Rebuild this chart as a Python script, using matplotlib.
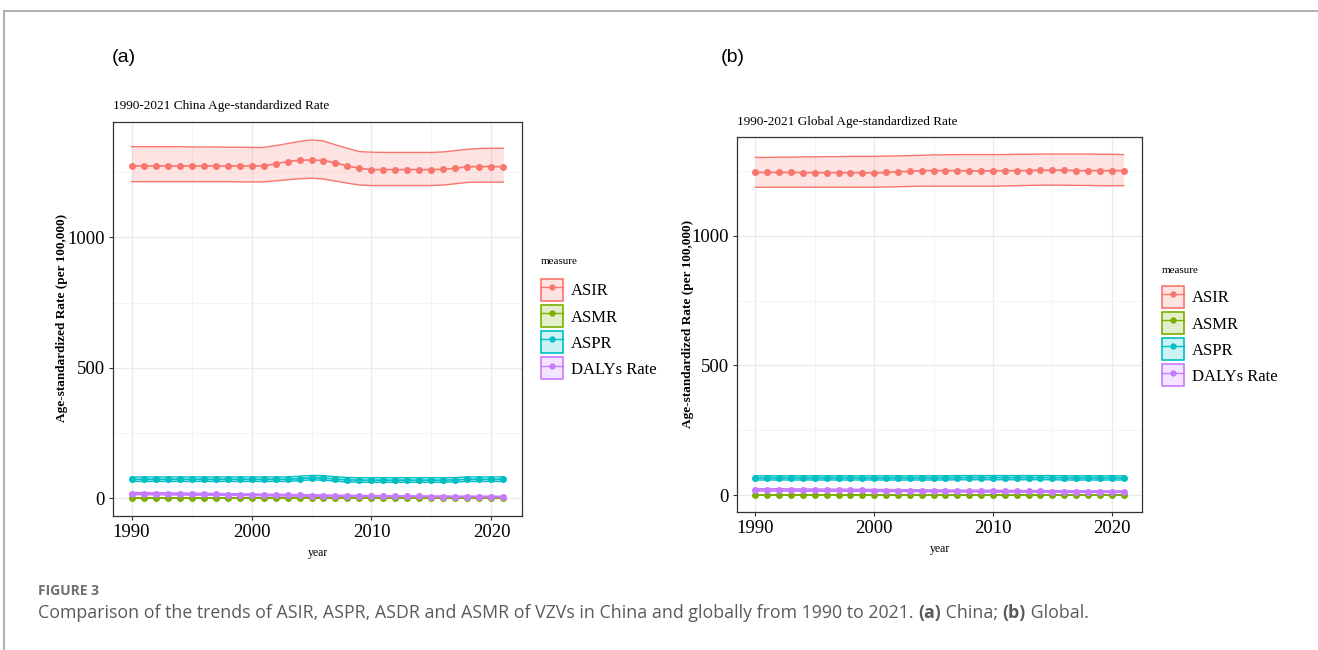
import numpy as np
import matplotlib.pyplot as plt
from matplotlib.patches import Patch
from matplotlib.lines import Line2D
from matplotlib.legend_handler import HandlerTuple
from matplotlib.colors import to_rgba

W, H = 1318, 650

years = list(range(1990, 2022))
measures = ["ASIR", "ASMR", "ASPR", "DALYs Rate"]
colors = ["#F8766D", "#7CAE00", "#00BFC4", "#C77CFF"]

# ---- China (panel a) ----
china_asir = [1274, 1274, 1274, 1274, 1274, 1274, 1274, 1274, 1274, 1274, 1274, 1274,
              1282, 1291, 1296, 1297, 1295, 1286, 1274, 1265, 1260, 1260, 1260, 1260,
              1260, 1260, 1261, 1265, 1271, 1272, 1272, 1271]
china_asir_upper = [1348, 1348, 1348, 1348, 1348, 1347, 1347, 1347, 1346, 1346, 1345, 1345,
                    1352, 1360, 1368, 1374, 1370, 1355, 1342, 1329, 1327, 1326, 1326, 1326,
                    1326, 1326, 1328, 1333, 1338, 1341, 1342, 1342]
china_asir_lower = [1214, 1214, 1214, 1214, 1214, 1214, 1214, 1214, 1214, 1213, 1213, 1213,
                    1217, 1221, 1225, 1227, 1224, 1216, 1208, 1201, 1199, 1199, 1199, 1199,
                    1199, 1199, 1201, 1206, 1211, 1212, 1212, 1212]
china_asmr = [0.6, 0.6, 0.6, 0.6, 0.6, 0.5, 0.5, 0.5, 0.5, 0.5, 0.5, 0.4, 0.4, 0.4, 0.4, 0.4,
              0.4, 0.3, 0.3, 0.3, 0.3, 0.3, 0.3, 0.3, 0.3, 0.3, 0.2, 0.2, 0.2, 0.2, 0.2, 0.2]
china_asmr_upper = [0.8, 0.8, 0.8, 0.8, 0.8, 0.7, 0.7, 0.7, 0.7, 0.7, 0.7, 0.6, 0.6, 0.6, 0.6, 0.6,
                    0.6, 0.5, 0.5, 0.5, 0.5, 0.5, 0.5, 0.5, 0.5, 0.5, 0.4, 0.4, 0.4, 0.4, 0.4, 0.4]
china_asmr_lower = [0.4, 0.4, 0.4, 0.4, 0.4, 0.4, 0.4, 0.4, 0.3, 0.3, 0.3, 0.3, 0.3, 0.3, 0.3, 0.3,
                    0.2, 0.2, 0.2, 0.2, 0.2, 0.2, 0.2, 0.2, 0.2, 0.1, 0.1, 0.1, 0.1, 0.1, 0.1, 0.1]
china_aspr = [72, 72, 72, 72, 72, 72, 72, 72, 72, 72, 72, 72, 72, 72, 75, 78,
              77, 73, 70, 69, 69, 69, 69, 69, 69, 69, 69, 70, 72, 72, 72, 72]
china_aspr_upper = [81, 81, 81, 81, 81, 81, 81, 81, 81, 81, 81, 81, 81, 81, 84, 87,
                    86, 82, 79, 78, 78, 78, 78, 78, 78, 78, 78, 79, 81, 81, 81, 81]
china_aspr_lower = [64, 64, 64, 64, 64, 64, 64, 64, 64, 64, 64, 64, 64, 64, 67, 70,
                    69, 65, 62, 61, 61, 61, 61, 61, 61, 61, 61, 62, 64, 64, 64, 64]
china_daly = [17.0, 16.8, 16.5, 16.1, 15.6, 14.9, 14.4, 14.0, 13.5, 13.0, 12.4, 11.8, 11.3, 10.8,
              10.2, 9.6, 9.1, 8.7, 8.2, 7.8, 7.4, 7.1, 6.8, 6.5, 6.3, 6.1, 5.9, 5.7, 5.6, 5.4, 5.3, 5.2]
china_daly_upper = [21.5, 21.2, 20.9, 20.4, 19.8, 19.0, 18.4, 17.9, 17.3, 16.7, 16.0, 15.3, 14.7, 14.1,
                    13.4, 12.7, 12.1, 11.6, 11.0, 10.5, 10.0, 9.6, 9.2, 8.8, 8.6, 8.3, 8.0, 7.8, 7.6, 7.4, 7.3, 7.2]
china_daly_lower = [13.0, 12.9, 12.6, 12.3, 11.9, 11.3, 10.9, 10.6, 10.2, 9.8, 9.3, 8.8, 8.4, 8.0,
                    7.5, 7.0, 6.6, 6.3, 5.9, 5.6, 5.3, 5.1, 4.9, 4.6, 4.5, 4.3, 4.2, 4.0, 3.9, 3.8, 3.7, 3.6]

# ---- Global (panel b) ----
global_asir = [1244, 1244, 1244, 1244, 1243, 1243, 1243, 1243, 1243, 1243, 1242, 1244,
               1247, 1248, 1251, 1251, 1251, 1251, 1250, 1250, 1250, 1251, 1251, 1251,
               1253, 1253, 1253, 1251, 1251, 1251, 1251, 1251]
global_asir_upper = [1302, 1302, 1303, 1303, 1304, 1304, 1305, 1305, 1306, 1306, 1306, 1307,
                     1308, 1309, 1310, 1312, 1312, 1313, 1313, 1313, 1313, 1313, 1314, 1314,
                     1315, 1315, 1315, 1315, 1315, 1314, 1314, 1313]
global_asir_lower = [1187, 1187, 1187, 1187, 1187, 1187, 1187, 1187, 1187, 1187, 1187, 1188,
                     1189, 1190, 1191, 1191, 1191, 1191, 1191, 1191, 1191, 1192, 1193, 1194,
                     1195, 1195, 1195, 1194, 1194, 1193, 1193, 1193]
global_asmr = [0.4, 0.4, 0.4, 0.4, 0.4, 0.4, 0.4, 0.4, 0.4, 0.4, 0.3, 0.3, 0.3, 0.3, 0.3, 0.3,
               0.3, 0.3, 0.3, 0.3, 0.3, 0.3, 0.3, 0.3, 0.3, 0.3, 0.3, 0.3, 0.3, 0.3, 0.3, 0.3]
global_asmr_upper = [0.6, 0.6, 0.6, 0.6, 0.6, 0.6, 0.6, 0.6, 0.6, 0.6, 0.5, 0.5, 0.5, 0.5, 0.5, 0.5,
                     0.5, 0.5, 0.5, 0.5, 0.5, 0.5, 0.5, 0.5, 0.5, 0.5, 0.5, 0.5, 0.5, 0.5, 0.5, 0.5]
global_asmr_lower = [0.3, 0.3, 0.3, 0.3, 0.3, 0.3, 0.3, 0.3, 0.3, 0.3, 0.2, 0.2, 0.2, 0.2, 0.2, 0.2,
                     0.2, 0.2, 0.2, 0.2, 0.2, 0.2, 0.2, 0.2, 0.2, 0.2, 0.2, 0.2, 0.2, 0.2, 0.2, 0.2]
global_aspr = [66, 66, 66, 66, 66, 66, 66, 66, 66, 66, 66, 66, 66, 66, 66, 66,
               66, 67, 67, 67, 67, 67, 67, 67, 67, 67, 66, 66, 66, 66, 66, 66]
global_aspr_upper = [74, 74, 74, 74, 74, 74, 74, 74, 74, 74, 74, 74, 74, 74, 74, 74,
                     74, 75, 75, 75, 75, 75, 75, 75, 75, 75, 74, 74, 74, 74, 74, 74]
global_aspr_lower = [58, 58, 58, 58, 58, 58, 58, 58, 58, 58, 58, 58, 58, 58, 58, 58,
                     58, 59, 59, 59, 59, 59, 59, 59, 59, 59, 58, 58, 58, 58, 58, 58]
global_daly = [19.5, 19.5, 19.3, 19.2, 18.9, 18.7, 18.4, 18.1, 17.9, 17.5, 17.2, 16.9, 16.6, 16.3,
               16.0, 15.6, 15.3, 15.0, 14.8, 14.6, 14.4, 14.2, 14.0, 13.8, 13.6, 13.4, 13.2, 13.0,
               12.8, 12.7, 12.6, 12.5]
global_daly_upper = [24.5, 24.5, 24.3, 24.1, 23.8, 23.5, 23.1, 22.8, 22.5, 22.0, 21.7, 21.3, 20.9, 20.5,
                     20.2, 19.7, 19.3, 18.9, 18.7, 18.4, 18.2, 17.9, 17.7, 17.4, 17.2, 16.9, 16.7, 16.4,
                     16.2, 16.0, 15.9, 15.8]
global_daly_lower = [15.2, 15.2, 15.0, 14.9, 14.7, 14.5, 14.3, 14.1, 13.9, 13.6, 13.4, 13.1, 12.9, 12.7,
                     12.4, 12.1, 11.9, 11.7, 11.5, 11.3, 11.2, 11.0, 10.9, 10.7, 10.5, 10.4, 10.2, 10.1,
                     9.9, 9.8, 9.8, 9.7]

china = {
    "ASIR": (china_asir, china_asir_lower, china_asir_upper),
    "ASMR": (china_asmr, china_asmr_lower, china_asmr_upper),
    "ASPR": (china_aspr, china_aspr_lower, china_aspr_upper),
    "DALYs Rate": (china_daly, china_daly_lower, china_daly_upper),
}
world = {
    "ASIR": (global_asir, global_asir_lower, global_asir_upper),
    "ASMR": (global_asmr, global_asmr_lower, global_asmr_upper),
    "ASPR": (global_aspr, global_aspr_lower, global_aspr_upper),
    "DALYs Rate": (global_daly, global_daly_lower, global_daly_upper),
}

SERIF = ["Liberation Serif", "DejaVu Serif"]
SANS = ["Liberation Sans", "DejaVu Sans"]


def px(x0, y0, x1, y1):
    """pixel box (top-left origin) -> figure rect"""
    return [x0 / W, 1 - y1 / H, (x1 - x0) / W, (y1 - y0) / H]


def draw_panel(ax, data, title):
    for m, c in zip(measures, colors):
        mean, lo, hi = data[m]
        ax.fill_between(years, lo, hi, color=c, alpha=0.2, lw=0, zorder=2)
        ax.plot(years, hi, color=c, lw=1.0, zorder=3)
        ax.plot(years, lo, color=c, lw=1.0, zorder=3)
    for m, c in zip(measures, colors):
        mean, lo, hi = data[m]
        ax.plot(years, mean, color=c, lw=1.2, marker="o", ms=4, zorder=4)

    allvals = [v for m in measures for arr in data[m] for v in arr]
    lo_v, hi_v = min(allvals), max(allvals)
    pad = 0.05 * (hi_v - lo_v)
    ax.set_ylim(lo_v - pad, hi_v + pad)
    ax.set_xlim(1990 - 0.05 * 31, 2021 + 0.05 * 31)

    ax.set_xticks([1990, 2000, 2010, 2020])
    ax.set_xticks([1995, 2005, 2015], minor=True)
    ax.set_yticks([0, 500, 1000])
    ax.set_yticks([250, 750, 1250], minor=True)
    ax.grid(which="major", color="#EBEBEB", lw=1.0, zorder=0)
    ax.grid(which="minor", color="#F2F2F2", lw=0.6, zorder=0)
    ax.set_axisbelow(True)
    for s in ax.spines.values():
        s.set_color("#333333")
        s.set_linewidth(0.9)
    ax.tick_params(which="major", length=3, width=0.8, color="#333333", pad=3,
                   labelsize=13.5, labelcolor="black")
    ax.tick_params(which="minor", length=0)
    for lab in ax.get_xticklabels() + ax.get_yticklabels():
        lab.set_family(SERIF)
    ax.set_title(title, loc="left", family=SERIF, fontsize=9.5, pad=9)
    ax.set_xlabel("year", family=SERIF, fontsize=8.5, labelpad=4)


def add_legend(fig, x, y_title, y_keys):
    fig.text(x / W, 1 - y_title / H, "measure", family=SERIF, fontsize=8,
             ha="left", va="center")
    handles = []
    for c in colors:
        box = Patch(facecolor=to_rgba(c, 0.2), edgecolor=c, lw=1.2)
        ln = Line2D([], [], color=c, lw=1.0, marker="o", ms=3.5)
        handles.append((box, ln))
    fig.legend(handles, measures,
               handler_map={tuple: HandlerTuple(ndivide=1, pad=0)},
               loc="upper left", bbox_to_anchor=(x / W, 1 - y_keys / H),
               frameon=False, borderpad=0, borderaxespad=0,
               handlelength=1.3, handleheight=1.65, labelspacing=0.25,
               handletextpad=0.5, prop={"family": SERIF, "size": 12})


fig = plt.figure(figsize=(W / 100, H / 100), dpi=100)

# outer frame of the figure panel
fig.add_artist(Line2D([4 / W, 1], [1 - 11 / H, 1 - 11 / H], color="#aaaaaa", lw=1.3))
fig.add_artist(Line2D([4 / W, 4 / W], [0, 1 - 11 / H], color="#aaaaaa", lw=1.3))

ax_a = fig.add_axes(px(113, 122, 522, 516))
draw_panel(ax_a, china, "1990-2021 China Age-standardized Rate")
ax_b = fig.add_axes(px(737, 137, 1142, 512))
draw_panel(ax_b, world, "1990-2021 Global Age-standardized Rate")

for xpix, ycen in [(62, 318), (688, 324)]:
    fig.text(xpix / W, 1 - ycen / H, "Age-standardized Rate (per 100,000)",
             rotation=90, ha="center", va="center", family=SERIF,
             fontsize=9.5, fontweight="bold")

add_legend(fig, 541, 262, 279)
add_legend(fig, 1162, 270, 286)

fig.text(112 / W, 1 - 57 / H, "(a)", family=SANS, fontsize=14, ha="left", va="center")
fig.text(721 / W, 1 - 57 / H, "(b)", family=SANS, fontsize=14, ha="left", va="center")

# caption
cap_font = ["Open Sans", "DejaVu Sans"]
fig.text(38 / W, 1 - 591 / H, "FIGURE 3", family=cap_font, fontsize=10,
         fontweight="bold", color="#6f6f6f", ha="left", va="center")

canvas = fig.add_axes([0, 0, 1, 1], facecolor="none")
canvas.set_axis_off()
pieces = [
    ("Comparison of the trends of ASIR, ASPR, ASDR and ASMR of VZVs in China and globally from 1990 to 2021. ", "normal"),
    ("(a)", "bold"),
    (" China; ", "normal"),
    ("(b)", "bold"),
    (" Global.", "normal"),
]
prev = canvas.text(38 / W, 1 - 613 / H, pieces[0][0], family=cap_font, fontsize=12.8,
                   color="#5a5a5a", ha="left", va="center", transform=canvas.transAxes)
for txt, wt in pieces[1:]:
    prev = canvas.annotate(txt, xy=(1, 0), xycoords=prev, va="bottom", ha="left",
                           family=cap_font, fontsize=12.8, fontweight=wt, color="#5a5a5a")

fig.savefig("out.png", dpi=100)
